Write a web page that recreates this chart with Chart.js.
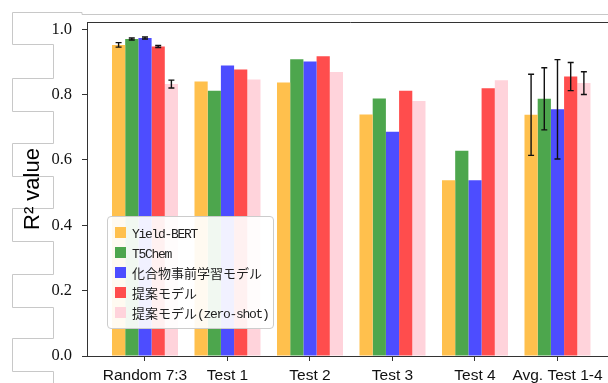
<!DOCTYPE html>
<html>
<head>
<meta charset="utf-8">
<script src="https://cdn.jsdelivr.net/npm/chart.js@4.4.1/dist/chart.umd.min.js"></script>
<style>
html, body { margin: 0; padding: 0; background: #fff; }
#wrap { position: relative; width: 608px; height: 383px; overflow: hidden; }
#frame { position: absolute; left: 0; top: 0; }
#chartBox { position: absolute; left: 0; top: 0; width: 620px; height: 383px; }
#legend {
    position: absolute; left: 107px; top: 216px; width: 167px;
    box-sizing: border-box; padding: 5px 0 6px 0;
    border: 1px solid #ccc; border-radius: 4px; background: rgba(255,255,255,0.92);
    font: 13px 'Noto Sans CJK JP', sans-serif; color: #222;
}
#legend .row { display: flex; align-items: center; height: 20px; white-space: nowrap; }
#legend .sw { width: 11px; height: 11px; margin: 0 6px 0 7px; flex: none; }
#legend .lat { font-family: 'Liberation Mono', monospace; letter-spacing: -1.3px; }
</style>
</head>
<body>
<div id="wrap">
  <svg id="frame" width="608" height="383">
    <polyline fill="none" stroke="#c8c8c8" stroke-width="1"
      points="608,14.5 82,14.5 82,12.5 12.5,12.5 12.5,44.5 53.5,44.5 53.5,78.5 12.5,78.5 12.5,111.5 53.5,111.5 53.5,143.5 12.5,143.5 12.5,176.5 53.5,176.5 53.5,208.5 12.5,208.5 12.5,241.5 53.5,241.5 53.5,274.5 12.5,274.5 12.5,307.5 53.5,307.5 53.5,338.5 12.5,338.5 12.5,371.5 53.5,371.5 53.5,383"/>
  </svg>
  <div id="chartBox"><canvas id="r2Chart" width="620" height="383"></canvas></div>
  <div id="legend"></div>
</div>
<script>
const categories = ['Random 7:3', 'Test 1', 'Test 2', 'Test 3', 'Test 4', 'Avg. Test 1-4'];
const yTicks = [0.0, 0.2, 0.4, 0.6, 0.8, 1.0];

const seriesNames = ['Yield-BERT', 'T5Chem', '化合物事前学習モデル', '提案モデル', '提案モデル(zero-shot)'];
const seriesColors = ['#ffc04d', '#4da64d', '#4d4dff', '#ff4d4d', '#ffd3db'];

const yieldBert = [0.952, 0.840, 0.837, 0.739, 0.538, 0.738];
const t5chem    = [0.970, 0.812, 0.908, 0.788, 0.628, 0.787];
const pretrain  = [0.973, 0.889, 0.901, 0.686, 0.538, 0.755];
const proposed  = [0.947, 0.877, 0.917, 0.812, 0.819, 0.855];
const zeroShot  = [0.832, 0.846, 0.869, 0.780, 0.844, 0.835];

// error bar half-lengths (null = no bar)
const yieldBertErr = [0.007, null, null, null, null, 0.124];
const t5chemErr    = [0.003, null, null, null, null, 0.095];
const pretrainErr  = [0.003, null, null, null, null, 0.152];
const proposedErr  = [0.003, null, null, null, null, 0.043];
const zeroShotErr  = [0.012, null, null, null, null, 0.035];

const seriesValues = [yieldBert, t5chem, pretrain, proposed, zeroShot];
const seriesErrors = [yieldBertErr, t5chemErr, pretrainErr, proposedErr, zeroShotErr];

const errorBars = {
    id: 'errorBars',
    afterDatasetsDraw(chart) {
        const ctx = chart.ctx;
        const y = chart.scales.y;
        ctx.save();
        ctx.strokeStyle = '#111';
        ctx.lineWidth = 1.4;
        chart.data.datasets.forEach((ds, i) => {
            const meta = chart.getDatasetMeta(i);
            seriesErrors[i].forEach((e, j) => {
                if (!e) return;
                const bar = meta.data[j];
                const v = seriesValues[i][j];
                const top = y.getPixelForValue(v + e);
                const bot = y.getPixelForValue(v - e);
                ctx.beginPath();
                ctx.moveTo(bar.x, top); ctx.lineTo(bar.x, bot);
                ctx.moveTo(bar.x - 3, top); ctx.lineTo(bar.x + 3, top);
                ctx.moveTo(bar.x - 3, bot); ctx.lineTo(bar.x + 3, bot);
                ctx.stroke();
            });
        });
        ctx.restore();
    }
};

const boxFrame = {
    id: 'boxFrame',
    afterDraw(chart) {
        const {ctx, chartArea} = chart;
        ctx.save();
        ctx.strokeStyle = '#333';
        ctx.lineWidth = 1;
        ctx.beginPath();
        ctx.moveTo(chartArea.left, chartArea.top + 0.5);
        ctx.lineTo(chartArea.right, chartArea.top + 0.5);
        ctx.lineTo(chartArea.right, chartArea.bottom);
        ctx.stroke();
        ctx.restore();
    }
};

const ctx = document.getElementById('r2Chart').getContext('2d');
const chart = new Chart(ctx, {
    type: 'bar',
    data: {
        datasets: seriesNames.map((name, i) => ({
            label: name,
            data: seriesValues[i].map((v, j) => ({x: j, y: v})),
            backgroundColor: seriesColors[i],
            borderWidth: 0
        }))
    },
    options: {
        responsive: false,
        animation: false,
        devicePixelRatio: 1,
        layout: { padding: { top: 22, right: 6, left: 0, bottom: 0 } },
        datasets: { bar: { categoryPercentage: 0.8, barPercentage: 1.0 } },
        plugins: {
            legend: { display: false },
            tooltip: { enabled: false }
        },
        scales: {
            x: {
                type: 'linear',
                bounds: 'data',
                min: -0.703,
                max: 5.685,
                offset: false,
                afterBuildTicks: s => { s.ticks = categories.map((c, i) => ({value: i})); },
                afterFit: s => { s.height = 27; },
                ticks: {
                    callback: v => categories[v],
                    font: { family: "'Liberation Sans', Arial, sans-serif", size: 15.5 },
                    color: '#111',
                    padding: 5,
                    maxRotation: 0,
                    autoSkip: false
                },
                grid: { offset: false, drawOnChartArea: false, tickLength: 5, color: '#333' },
                border: { color: '#333' }
            },
            y: {
                bounds: 'data',
                min: 0,
                max: 1.022,
                afterBuildTicks: s => { s.ticks = yTicks.map(v => ({value: v})); },
                afterFit: s => { s.width = 87; },
                ticks: {
                    callback: v => v.toFixed(1),
                    font: { family: "'Liberation Serif', 'Times New Roman', serif", size: 16.5 },
                    color: '#111',
                    padding: 10
                },
                grid: { drawOnChartArea: false, tickLength: 5, color: '#333' },
                border: { color: '#333' },
                title: {
                    display: true,
                    text: 'R² value',
                    font: { family: "'Liberation Sans', Arial, sans-serif", size: 22 },
                    color: '#000',
                    padding: { top: 20, bottom: 0 }
                }
            }
        }
    },
    plugins: [errorBars, boxFrame]
});

// HTML legend from the datasets; half-width Latin runs get a narrow mono face
const legendEl = document.getElementById('legend');
chart.data.datasets.forEach(ds => {
    const row = document.createElement('div');
    row.className = 'row';
    const sw = document.createElement('span');
    sw.className = 'sw';
    sw.style.background = ds.backgroundColor;
    row.appendChild(sw);
    const txt = document.createElement('span');
    ds.label.split(/([\x20-\x7e]+)/).forEach(part => {
        if (!part) return;
        const s = document.createElement('span');
        if (/^[\x20-\x7e]+$/.test(part)) s.className = 'lat';
        s.textContent = part;
        txt.appendChild(s);
    });
    row.appendChild(txt);
    legendEl.appendChild(row);
});
</script>
</body>
</html>
